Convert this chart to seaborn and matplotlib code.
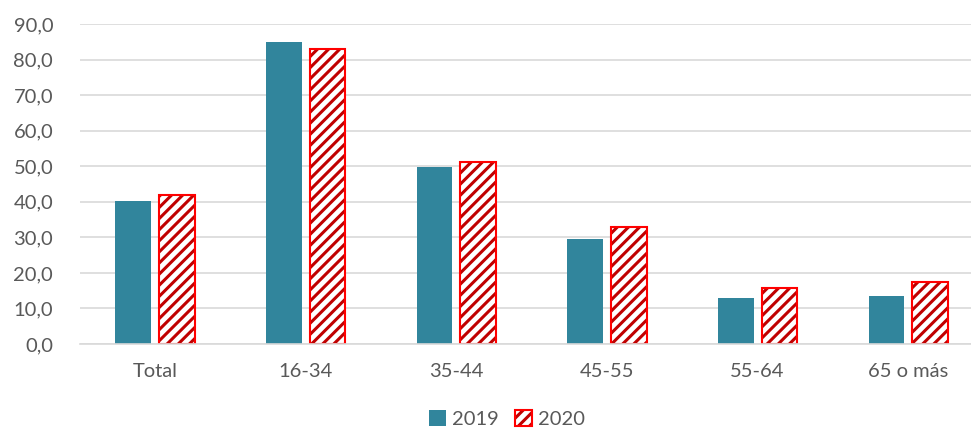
import matplotlib
matplotlib.use("Agg")
import matplotlib.pyplot as plt
import seaborn as sns
import pandas as pd
from matplotlib.patches import Patch, Rectangle
from matplotlib.legend_handler import HandlerTuple

categories = ["Total", "16-34", "35-44", "45-55", "55-64", "65 o más"]
values_2019 = [40.1, 85.0, 49.7, 29.4, 13.0, 13.5]
values_2020 = [42.0, 83.0, 51.3, 32.8, 15.7, 17.5]
series = ["2019", "2020"]
yticks = [0, 10, 20, 30, 40, 50, 60, 70, 80, 90]

df = pd.DataFrame({
    "cat": categories * 2,
    "val": values_2019 + values_2020,
    "year": [series[0]] * len(categories) + [series[1]] * len(categories),
})

sns.set_theme(style="white")
plt.rcParams["font.family"] = ["Lato", "DejaVu Sans"]
plt.rcParams["hatch.linewidth"] = 2.2

fig = plt.figure(figsize=(9.71, 4.34), dpi=100)
ax = fig.add_axes([0.082, 0.2074, 0.931, 0.7373])

teal = "#31859C"
red = "#FF0000"
darkred = "#C00000"
sns.barplot(data=df, x="cat", y="val", hue="year", order=categories,
            hue_order=series, palette=[teal, "white"], width=0.578, gap=0.18,
            ax=ax, legend=False, saturation=1)

n = len(categories)
bars = list(ax.patches[:2 * n])
for i, p in enumerate(bars):
    p.set_linewidth(0)
    if i >= n:
        p.set_facecolor("white")
        p.set_edgecolor(darkred)
        p.set_hatch("///")
        ax.add_patch(Rectangle((p.get_x(), p.get_y()), p.get_width(), p.get_height(),
                               facecolor="none", edgecolor=red, linewidth=1.5, zorder=p.get_zorder() + 0.1))
    else:
        p.set_edgecolor("none")

ax.set_ylim(0, 90)
ax.set_yticks(yticks)
ax.set_yticklabels([f"{v:.1f}".replace(".", ",") for v in yticks])
ax.yaxis.grid(True, color="#D9D9D9", linewidth=1.2)
ax.set_axisbelow(True)
for s in ["top", "right", "left"]:
    ax.spines[s].set_visible(False)
ax.spines["bottom"].set_color("#D9D9D9")
ax.spines["bottom"].set_linewidth(1.2)
ax.tick_params(axis="both", length=0, colors="#595959", labelsize=14.5)
ax.tick_params(axis="x", pad=14)
ax.tick_params(axis="y", pad=19)
ax.set_xlabel("")
ax.set_ylabel("")

h2019 = Patch(facecolor=teal, edgecolor="none")
h2020 = (Patch(facecolor="white", edgecolor=darkred, hatch="///", linewidth=0),
         Patch(facecolor="none", edgecolor=red, linewidth=1.5))
fig.legend(handles=[h2019, h2020], labels=series, loc="center",
           bbox_to_anchor=(0.522, 0.035), ncol=2,
           handler_map={tuple: HandlerTuple(ndivide=1, pad=0)},
           frameon=False, fontsize=14.5, handlelength=0.85, handleheight=0.85,
           handletextpad=0.3, columnspacing=0.8, labelcolor="#595959")

fig.savefig("out.png", dpi=100)
